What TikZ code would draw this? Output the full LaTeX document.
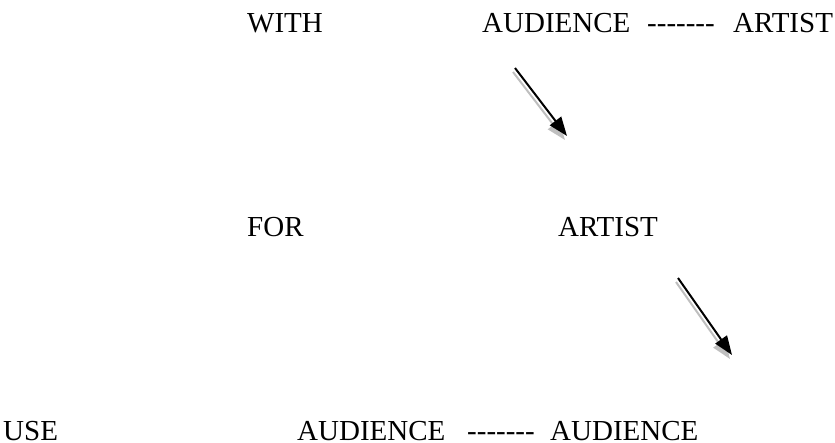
\documentclass[tikz,border=0pt]{standalone}
\usepackage{fontspec}
\setmainfont{Liberation Serif}
\usetikzlibrary{arrows.meta}
\tikzset{
  lbl/.style={anchor=base west, inner sep=0pt, font=\fontsize{29}{31}\selectfont},
  arr/.style={line width=2pt, -{Triangle[length=19pt,width=14pt]}},
  shadowarr/.style={arr, draw=black!25, fill=black!25}
}
\begin{document}
\begin{tikzpicture}[x=1pt,y=-1pt]
\useasboundingbox (0,0) rectangle (835,443);
% row 1
\node[lbl] (with) at (247,33) {WITH};
\node[lbl] (aud1) at (482,33) {AUDIENCE};
\node[lbl] (dash1) at (647,33) {-{}-{}-{}-{}-{}-{}-};
\node[lbl] (art1) at (733,33) {ARTIST};
% row 2
\node[lbl] (for) at (247,237) {FOR};
\node[lbl] (art2) at (558,237) {ARTIST};
% row 3
\node[lbl] (use) at (3,440) {USE};
\node[lbl] (aud2) at (297,440) {AUDIENCE};
\node[lbl] (dash2) at (467,440) {-{}-{}-{}-{}-{}-{}-};
\node[lbl] (aud3) at (550,440) {AUDIENCE};
% arrows
\coordinate (a1s) at (515,68);
\coordinate (a1e) at (567,136);
\coordinate (a2s) at (678,278);
\coordinate (a2e) at (732,355);
\draw[shadowarr] ([shift={(-2,4)}]a1s) -- ([shift={(-2,4)}]a1e);
\draw[arr] (a1s) -- (a1e);
\draw[shadowarr] ([shift={(-2,4)}]a2s) -- ([shift={(-2,4)}]a2e);
\draw[arr] (a2s) -- (a2e);
\end{tikzpicture}
\end{document}
